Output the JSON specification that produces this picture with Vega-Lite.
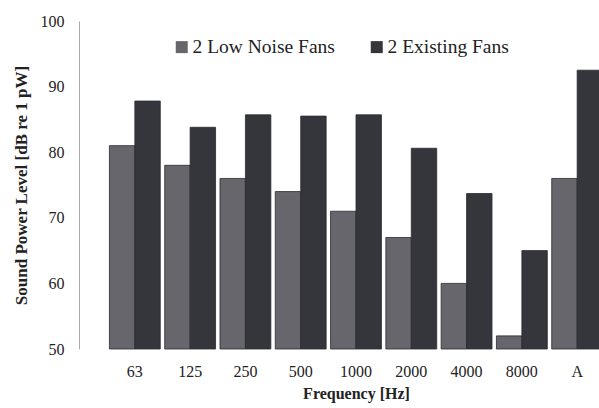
{
  "$schema": "https://vega.github.io/schema/vega-lite/v6.json",
  "width": 520,
  "height": 328,
  "autosize": {"type": "none"},
  "padding": {"left": 79, "top": 21, "right": 0, "bottom": 59},
  "background": "white",
  "config": {
    "font": "Liberation Serif",
    "view": {"stroke": null},
    "axis": {"grid": false, "labelColor": "#222", "titleColor": "#222", "labelFont": "Liberation Serif", "titleFont": "Liberation Serif"},
    "legend": {"labelColor": "#222", "labelFont": "Liberation Serif"}
  },
  "data": {
    "values": [
      {"freq": "63", "series": "2 Low Noise Fans", "level": 81},
      {"freq": "63", "series": "2 Existing Fans", "level": 87.8},
      {"freq": "125", "series": "2 Low Noise Fans", "level": 78},
      {"freq": "125", "series": "2 Existing Fans", "level": 83.8},
      {"freq": "250", "series": "2 Low Noise Fans", "level": 76},
      {"freq": "250", "series": "2 Existing Fans", "level": 85.7},
      {"freq": "500", "series": "2 Low Noise Fans", "level": 74},
      {"freq": "500", "series": "2 Existing Fans", "level": 85.5},
      {"freq": "1000", "series": "2 Low Noise Fans", "level": 71},
      {"freq": "1000", "series": "2 Existing Fans", "level": 85.7},
      {"freq": "2000", "series": "2 Low Noise Fans", "level": 67},
      {"freq": "2000", "series": "2 Existing Fans", "level": 80.6},
      {"freq": "4000", "series": "2 Low Noise Fans", "level": 60},
      {"freq": "4000", "series": "2 Existing Fans", "level": 73.7},
      {"freq": "8000", "series": "2 Low Noise Fans", "level": 52},
      {"freq": "8000", "series": "2 Existing Fans", "level": 65},
      {"freq": "A", "series": "2 Low Noise Fans", "level": 76},
      {"freq": "A", "series": "2 Existing Fans", "level": 92.5}
    ]
  },
  "mark": {"type": "bar", "stroke": "#2a2a30", "strokeWidth": 0.8},
  "encoding": {
    "x": {
      "field": "freq",
      "type": "nominal",
      "sort": ["63", "125", "250", "500", "1000", "2000", "4000", "8000", "A"],
      "scale": {"range": [0, 554], "paddingInner": 0.08, "paddingOuter": 0.55},
      "axis": {
        "labelAngle": 0,
        "ticks": false,
        "domain": false,
        "labelFontSize": 16,
        "labelPadding": 14,
        "title": "Frequency [Hz]",
        "titleFontSize": 16,
        "titleFontWeight": "bold",
        "titlePadding": 6,
        "titleX": 277
      }
    },
    "xOffset": {"field": "series", "sort": ["2 Low Noise Fans", "2 Existing Fans"]},
    "y": {
      "field": "level",
      "type": "quantitative",
      "scale": {"domain": [50, 100], "zero": false, "nice": false},
      "axis": {
        "values": [50, 60, 70, 80, 90, 100],
        "ticks": false,
        "domainColor": "#aaaaaa",
        "labelFontSize": 16,
        "labelPadding": 15,
        "title": "Sound Power Level [dB re 1 pW]",
        "titleFontSize": 17,
        "titleFontWeight": "bold",
        "titlePadding": 10
      }
    },
    "y2": {"datum": 50},
    "color": {
      "field": "series",
      "type": "nominal",
      "sort": ["2 Low Noise Fans", "2 Existing Fans"],
      "scale": {"domain": ["2 Low Noise Fans", "2 Existing Fans"], "range": ["#66666c", "#35353c"]},
      "legend": {
        "title": null,
        "orient": "none",
        "legendX": 93,
        "legendY": 16,
        "direction": "horizontal",
        "padding": 0,
        "symbolType": "square",
        "symbolSize": 144,
        "symbolStrokeWidth": 0,
        "labelFontSize": 19.5,
        "labelOffset": 1,
        "columnPadding": 32
      }
    }
  }
}
